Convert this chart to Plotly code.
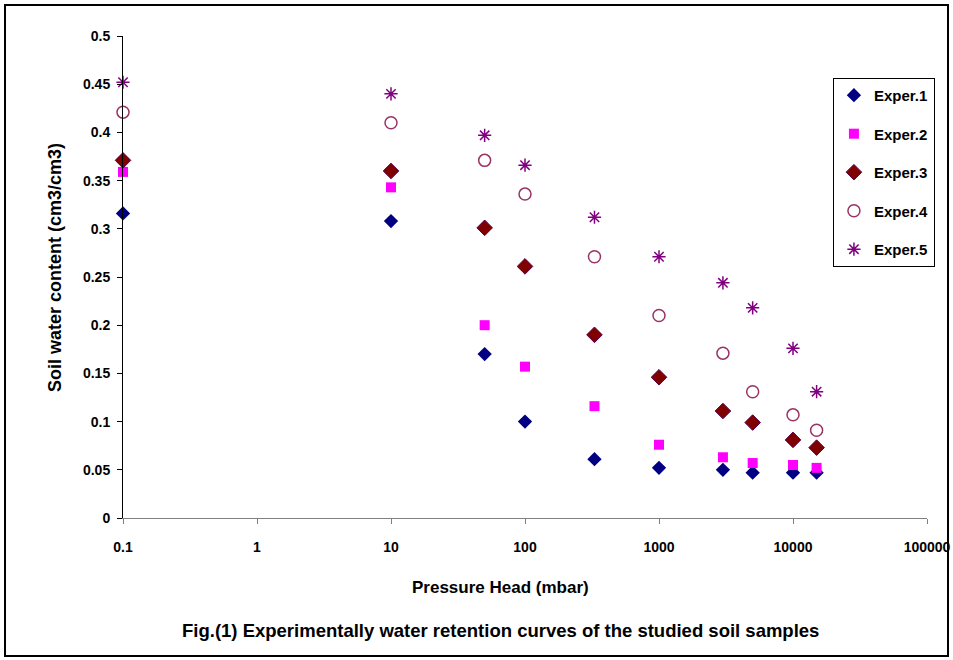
import plotly.graph_objects as go

pressure = [0.1, 10, 50, 100, 330, 1000, 3000, 5000, 10000, 15000]
exper1 = [0.316, 0.308, 0.170, 0.100, 0.061, 0.052, 0.050, 0.047, 0.047, 0.047]
exper2 = [0.359, 0.343, 0.200, 0.157, 0.116, 0.076, 0.063, 0.057, 0.055, 0.052]
exper3 = [0.371, 0.360, 0.301, 0.261, 0.190, 0.146, 0.111, 0.099, 0.081, 0.073]
exper4 = [0.421, 0.410, 0.371, 0.336, 0.271, 0.210, 0.171, 0.131, 0.107, 0.091]
exper5 = [0.452, 0.440, 0.397, 0.366, 0.312, 0.271, 0.244, 0.218, 0.176, 0.131]
names = ["Exper.1", "Exper.2", "Exper.3", "Exper.4", "Exper.5"]
x_tickvals = [0.1, 1, 10, 100, 1000, 10000, 100000]
x_ticktext = ["0.1", "1", "10", "100", "1000", "10000", "100000"]

FONT = "Arial, Liberation Sans, sans-serif"

styles = [
    dict(symbol="diamond", size=11, color="#000080", line=dict(width=0)),
    dict(symbol="square", size=10, color="#FF00FF", line=dict(width=0)),
    dict(symbol="diamond", size=12, color="#800000", line=dict(width=1, color="#5a0050")),
    dict(symbol="circle-open", size=12, color="#993366", line=dict(width=1.5, color="#993366")),
    dict(symbol="asterisk-open", size=11, color="#800080", line=dict(width=1.5, color="#800080")),
]

fig = go.Figure()
for i, (nm, ys) in enumerate(zip(names, [exper1, exper2, exper3, exper4, exper5])):
    fig.add_trace(go.Scatter(x=pressure, y=ys, mode="markers", name=nm,
                             legendgroup=nm, marker=styles[i], cliponaxis=False))

fig.update_layout(
    width=953, height=660,
    margin=dict(l=123, r=26, t=36, b=142),
    paper_bgcolor="white", plot_bgcolor="white",
    font=dict(family=FONT, size=12, color="black"),
    showlegend=True,
    legend=dict(x=0.883, y=0.913, xanchor="left", yanchor="top",
                bordercolor="black", borderwidth=1, bgcolor="white",
                font=dict(family=FONT, size=15, color="black", weight="bold"),
                tracegroupgap=16, traceorder="grouped", itemwidth=30),
    xaxis=dict(type="log", range=[-1, 5], tickvals=x_tickvals, ticktext=x_ticktext,
               showgrid=False, zeroline=False, showline=True, linecolor="#808080",
               linewidth=1, ticks="outside", ticklen=5, tickcolor="#808080",
               ticklabelstandoff=11, automargin=False,
               tickfont=dict(family=FONT, size=14, color="black", weight="bold")),
    yaxis=dict(range=[0, 0.5], dtick=0.05, tick0=0, showgrid=False, zeroline=False,
               showline=True, linecolor="black", linewidth=1, ticks="outside",
               ticklen=5, tickcolor="black", ticklabelstandoff=4, automargin=False,
               tickfont=dict(family=FONT, size=14, color="black", weight="bold")),
    annotations=[
        dict(text="Pressure Head (mbar)", xref="paper", yref="paper",
             x=(500 - 123) / 804, y=(518 - 587) / 482, showarrow=False,
             xanchor="center", yanchor="middle",
             font=dict(family=FONT, size=17, weight="bold")),
        dict(text="Fig.(1) Experimentally water retention curves of the studied soil samples",
             xref="paper", yref="paper", x=(500 - 123) / 804, y=(518 - 630) / 482,
             showarrow=False, xanchor="center", yanchor="middle",
             font=dict(family=FONT, size=18.5, weight="bold")),
        dict(text="Soil water content (cm3/cm3)", xref="paper", yref="paper",
             x=(55 - 123) / 804, y=(518 - 268) / 482, showarrow=False, textangle=-90,
             xanchor="center", yanchor="middle",
             font=dict(family=FONT, size=18, weight="bold")),
    ],
    shapes=[dict(type="rect", xref="paper", yref="paper",
                 x0=(5 - 123) / 804, x1=(948 - 123) / 804,
                 y0=(518 - 656) / 482, y1=(518 - 5) / 482,
                 line=dict(color="black", width=2))],
)

fig.write_html("out.html")
